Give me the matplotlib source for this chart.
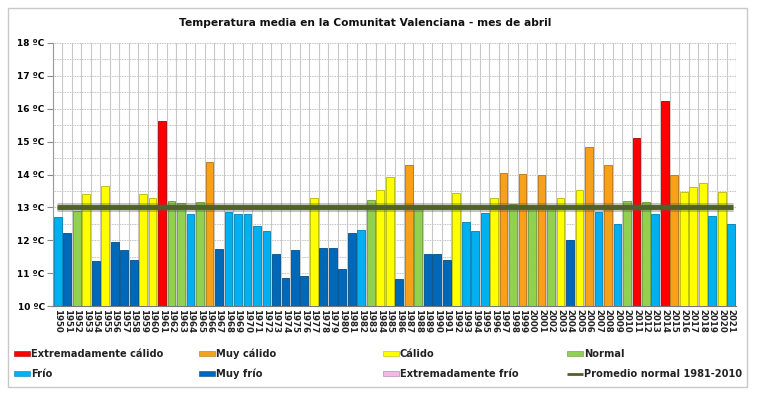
import matplotlib
matplotlib.use("Agg")
import matplotlib.pyplot as plt
from matplotlib.patches import Rectangle
from matplotlib.lines import Line2D

years = list(range(1950, 2022))
temps = [12.70, 12.22, 12.90, 13.40, 11.37, 13.66, 11.95, 11.71, 11.41, 13.40,
         13.28, 15.63, 13.19, 13.14, 12.80, 13.17, 14.38, 11.73, 12.85, 12.79,
         12.80, 12.44, 12.28, 11.59, 10.86, 11.69, 10.90, 13.30, 11.77, 11.75,
         11.12, 12.21, 12.32, 13.22, 13.53, 13.92, 10.81, 14.29, 12.95, 11.59,
         11.59, 11.41, 13.43, 12.57, 12.28, 12.83, 13.29, 14.05, 13.10, 14.02,
         13.05, 13.98, 13.02, 13.30, 12.00, 13.53, 14.84, 12.85, 14.28, 12.49,
         13.19, 15.10, 13.16, 12.79, 16.23, 13.98, 13.47, 13.61, 13.73, 12.74,
         13.47, 12.50]
cats = ["F", "MF", "N", "C", "MF", "C", "MF", "MF", "MF", "C",
        "C", "EC", "N", "N", "F", "N", "MC", "MF", "F", "F",
        "F", "F", "F", "MF", "MF", "MF", "MF", "C", "MF", "MF",
        "MF", "MF", "F", "N", "C", "C", "MF", "MC", "N", "MF",
        "MF", "MF", "C", "F", "F", "F", "C", "MC", "N", "MC",
        "N", "MC", "N", "C", "MF", "C", "MC", "F", "MC", "F",
        "N", "EC", "N", "F", "EC", "MC", "C", "C", "C", "F",
        "C", "F"]
normal_value = 13.0
legend_labels = ["Extremadamente cálido", "Muy cálido", "Cálido", "Normal",
                 "Frío", "Muy frío", "Extremadamente frío", "Promedio normal 1981-2010"]
legend_keys = ["EC", "MC", "C", "N", "F", "MF", "EF", "AVG"]
title = "Temperatura media en la Comunitat Valenciana - mes de abril"
yticks = [10, 11, 12, 13, 14, 15, 16, 17, 18]
ytick_labels = [f"{v} ºC" for v in yticks]

colors = {"EC": "#FF0000", "MC": "#F7A01A", "C": "#FFFF00", "N": "#92D050",
          "F": "#00B0F0", "MF": "#0068B8", "EF": "#F2B8E6"}
edges = {"EC": "#B00000", "MC": "#B87410", "C": "#B8B800", "N": "#6A9A3A",
         "F": "#0080B0", "MF": "#004E88", "EF": "#A080A0"}
line_color = "#4F6228"
font = "DejaVu Sans"

W, H = 761, 396
fig = plt.figure(figsize=(W / 100, H / 100), dpi=100)
fig.patch.set_facecolor("white")

# outer frame
fig.add_artist(Rectangle((8 / W, 1 - 387 / H), 739 / W, 379 / H, transform=fig.transFigure,
                         fill=False, edgecolor="#c8c8c8", linewidth=1.0))

ax = fig.add_axes([53 / W, 1 - 306 / H, 683 / W, 263 / H])
x = list(range(len(years)))
ax.bar(x, [t - 10 for t in temps], bottom=10, width=0.82,
       color=[colors[c] for c in cats], edgecolor=[edges[c] for c in cats],
       linewidth=0.6, zorder=3)

# normal line with shadow
ax.plot([-0.1, 71.2], [normal_value, normal_value], color="#555555", lw=6.5, alpha=0.35,
        solid_capstyle="butt", zorder=4)
ax.plot([-0.1, 71.2], [normal_value, normal_value], color=line_color, lw=3.5,
        solid_capstyle="butt", zorder=5)

ax.set_xlim(-0.5, len(years) - 0.5)
ax.set_ylim(10, 18)
ax.set_yticks(yticks)
ax.set_yticklabels(ytick_labels, fontsize=6.5, fontweight="bold", family=font)
ax.set_yticks([v + 0.5 for v in yticks[:-1]], minor=True)
ax.set_xticks(x)
ax.set_xticklabels([str(y) for y in years], rotation=270, fontsize=6.2,
                   fontweight="bold", family=font, color="#222222")
ax.tick_params(axis="x", length=0, pad=2)
ax.tick_params(axis="y", which="major", length=4, color="#888888", pad=2)
ax.tick_params(axis="y", which="minor", length=0)

# grids
for xv in [i + 0.5 for i in range(-1, len(years))]:
    ax.axvline(xv, color="#c8c8c8", lw=0.8, zorder=1)
ax.grid(axis="y", which="both", color="#aaaaaa", lw=0.6, linestyle=(0, (1, 1)), zorder=1)
ax.set_axisbelow(True)
for s in ["top", "right"]:
    ax.spines[s].set_visible(False)
ax.spines["left"].set_color("#999999")
ax.spines["bottom"].set_color("#777777")
ax.spines["left"].set_linewidth(0.8)

fig.text(365 / W, 1 - 23 / H, title, ha="center", va="center",
         fontsize=7.7, fontweight="bold", family=font, color="#111111")

# legend
col_x = [14, 199, 383, 567]
row_y = [353.5, 373.5]
for i, (lab, key) in enumerate(zip(legend_labels, legend_keys)):
    cx = col_x[i % 4]
    cy = row_y[i // 4]
    if key == "AVG":
        fig.add_artist(Line2D([cx / W, (cx + 16) / W], [1 - cy / H, 1 - cy / H],
                              transform=fig.transFigure, color=line_color, lw=2.0,
                              solid_capstyle="butt"))
    else:
        fig.add_artist(Rectangle((cx / W, 1 - (cy + 2.5) / H), 16 / W, 5 / H,
                                 transform=fig.transFigure, facecolor=colors[key],
                                 edgecolor=edges[key], linewidth=0.4))
    fig.text((cx + 17) / W, 1 - (cy + 3.5) / H, lab, ha="left", va="baseline", fontsize=7.1,
             fontweight="bold", family=font, color="#222222")

fig.savefig("out.png", dpi=100)
